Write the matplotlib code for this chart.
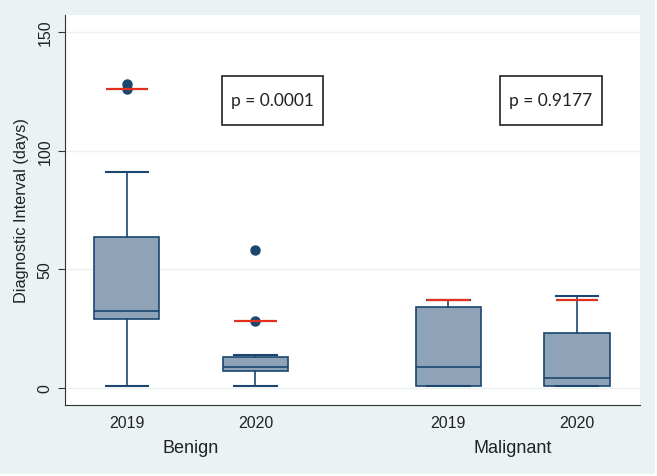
import matplotlib
matplotlib.use('Agg')
import matplotlib.pyplot as plt
from matplotlib.patches import Rectangle

# values (days)
groups = ['Benign', 'Malignant']
years = ['2019', '2020', '2019', '2020']
positions = [0, 1, 2.5, 3.5]
whis_lo = [1, 1, 1, 1]
q1 = [29, 7, 1, 1]
median = [32.5, 8.7, 9, 4.3]
q3 = [63.5, 13.2, 34, 23]
whis_hi = [90.8, 13.9, 37, 38.9]
outliers = [[126, 128], [28, 58], [], []]
red_marks = [125.8, 28, 37.2, 37.2]
p_values = ['p = 0.0001', 'p = 0.9177']

navy = '#1a476f'
fill = '#8fa3b8'
bg = '#eaf2f3'
red = '#e0301e'

plt.rcParams['font.family'] = ['Liberation Sans', 'DejaVu Sans']

fig = plt.figure(figsize=(6.57, 4.77), dpi=100, facecolor=bg)
ax = fig.add_axes([65 / 657, 71 / 477, 575 / 657, 390 / 477])
ax.set_facecolor('white')

stats = []
for i in range(len(positions)):
    stats.append(dict(med=median[i], q1=q1[i], q3=q3[i],
                      whislo=whis_lo[i], whishi=whis_hi[i], fliers=outliers[i]))

ax.bxp(stats, positions=positions, widths=0.506, capwidths=0.33,
       patch_artist=True, showfliers=True,
       boxprops=dict(facecolor=fill, edgecolor=navy, linewidth=1.2),
       medianprops=dict(color=navy, linewidth=1.2),
       whiskerprops=dict(color=navy, linewidth=1.2),
       capprops=dict(color=navy, linewidth=1.5),
       flierprops=dict(marker='o', markerfacecolor=navy, markeredgecolor=navy,
                       markersize=6.5))

# red reference marks
for x, r in zip(positions, red_marks):
    ax.hlines(r, x - 0.165, x + 0.165, color=red, linewidth=1.6, zorder=5)

ax.set_xlim(-0.48, 3.99)
ax.set_ylim(-7.2, 157.1)
ax.set_yticks([0, 50, 100, 150])
ax.yaxis.grid(True, color=bg, linewidth=1)
ax.set_axisbelow(True)

ax.set_xticks(positions)
ax.set_xticklabels(years, fontsize=11.5, color='#222222')
ax.tick_params(axis='x', length=0, pad=7)
ax.tick_params(axis='y', length=5, width=0.8, pad=4, labelsize=11.5,
               color='#333333', labelcolor='#222222')
for lab in ax.get_yticklabels():
    lab.set_rotation(90)
    lab.set_va('center')

ax.spines['top'].set_visible(False)
ax.spines['right'].set_visible(False)
ax.spines['left'].set_color('#333333')
ax.spines['bottom'].set_color('#333333')

ax.set_ylabel('Diagnostic Interval (days)', fontsize=11.8, color='#222222', labelpad=6)

# group labels under the year ticks
for g, (a, b) in zip(groups, [(0, 1), (2, 3)]):
    ax.text((positions[a] + positions[b]) / 2, -0.108, g, transform=ax.get_xaxis_transform(),
            ha='center', va='center', fontsize=13, color='#222222')

# p-value boxes
for (x0, x1), p in zip([(0.273, 0.449), (0.7565, 0.934)], p_values):
    ax.add_patch(Rectangle((x0, 0.718), x1 - x0, 0.1256, transform=ax.transAxes,
                           facecolor='white', edgecolor='#222222', linewidth=1.2, zorder=6))
    ax.text((x0 + x1) / 2, 0.781, p, transform=ax.transAxes, ha='center', va='center',
            fontsize=12.5, family=['Lato', 'DejaVu Sans'], color='#222222', zorder=7)

# thin white strips at right and bottom edges of the image
fig.patches.append(Rectangle((655 / 657, 0), 2 / 657, 1, transform=fig.transFigure,
                             facecolor='white', edgecolor='none'))
fig.patches.append(Rectangle((0, 0), 1, 2 / 477, transform=fig.transFigure,
                             facecolor='white', edgecolor='none'))

fig.savefig('out.png', dpi=100, facecolor=bg)
